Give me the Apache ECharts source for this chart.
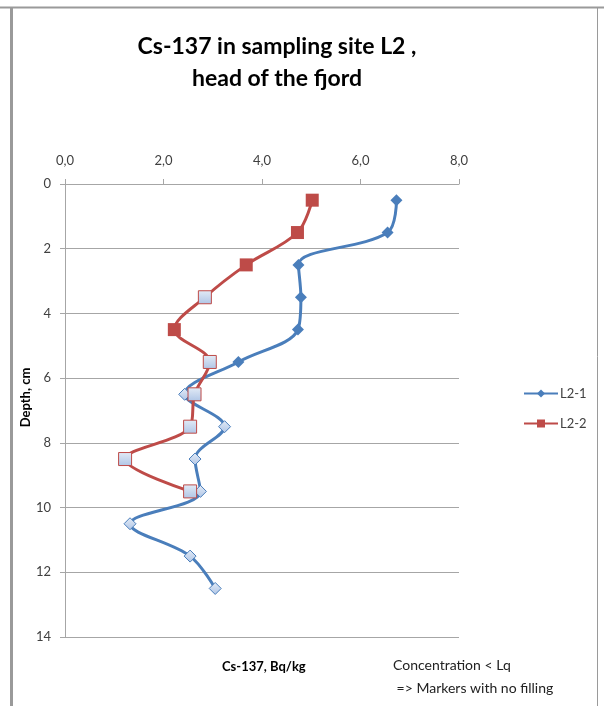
<!DOCTYPE html>
<html>
<head>
<meta charset="utf-8">
<script src="https://cdn.jsdelivr.net/npm/echarts@6/dist/echarts.min.js"></script>
<style>
  html, body { margin: 0; padding: 0; background: #fff; }
  #chart { width: 604px; height: 706px; }
</style>
</head>
<body>
<div id="chart"></div>
<script>
// depth of each slice (cm)
var depths = [0.5, 1.5, 2.5, 3.5, 4.5, 5.5, 6.5, 7.5, 8.5, 9.5, 10.5, 11.5, 12.5];
// Cs-137 activity, Bq/kg
var l21Values = [6.73, 6.55, 4.74, 4.79, 4.73, 3.52, 2.43, 3.24, 2.64, 2.75, 1.32, 2.54, 3.05];
var l22Values = [5.02, 4.72, 3.68, 2.84, 2.22, 2.94, 2.63, 2.54, 1.22, 2.54];
// true = concentration < Lq (marker with no filling)
var l21BelowLq = [false, false, false, false, false, false, true, true, true, true, true, true, true];
var l22BelowLq = [false, false, false, true, false, true, true, true, true, true];
var xTicks = [0, 2, 4, 6, 8];
var yTicks = [0, 2, 4, 6, 8, 10, 12, 14];

var blue = '#4a7ebb';
var red = '#be4b48';
var labelColor = '#404040';
var gridColor = '#a6a6a6';

var emptyFill = new echarts.graphic.LinearGradient(0, 0, 0, 1, [
    { offset: 0, color: '#e3ebf6' },
    { offset: 1, color: '#afc5e6' }
]);

function buildData(values, flags, color) {
    return values.map(function (v, i) {
        var item = { value: [v, depths[i]] };
        if (flags[i]) {
            item.itemStyle = { color: emptyFill, borderColor: color, borderWidth: 1 };
        }
        return item;
    });
}

var myChart = echarts.init(document.getElementById('chart'));
myChart.setOption({
    animation: false,
    title: {
        text: 'Cs-137 in sampling site L2 ,\nhead of the fjord',
        left: 272,
        top: 26,
        textAlign: 'center',
        textStyle: {
            fontFamily: 'Lato',
            fontSize: 23,
            fontWeight: 'bold',
            color: '#000',
            lineHeight: 32
        }
    },
    grid: {
        left: 65,
        right: 145,
        top: 184,
        bottom: 69,
        containLabel: false,
        outerBoundsMode: 'none'
    },
    legend: {
        orient: 'vertical',
        left: 518,
        top: 382,
        itemWidth: 34,
        itemHeight: 10,
        itemGap: 17,
        data: ['L2-1', 'L2-2'],
        textStyle: { color: labelColor, fontSize: 13, fontFamily: 'Lato', padding: [0, 0, 0, -3] }
    },
    xAxis: {
        type: 'value',
        position: 'top',
        min: xTicks[0],
        max: xTicks[xTicks.length - 1],
        interval: 2,
        axisLine: { show: true, lineStyle: { color: gridColor } },
        axisTick: { show: true, length: 5, lineStyle: { color: gridColor } },
        splitLine: { show: false },
        axisLabel: {
            margin: 17,
            fontSize: 13,
            fontFamily: 'Lato',
            color: labelColor,
            formatter: function (v) { return v.toFixed(1).replace('.', ','); }
        }
    },
    yAxis: {
        type: 'value',
        inverse: true,
        min: yTicks[0],
        max: yTicks[yTicks.length - 1],
        interval: 2,
        name: 'Depth, cm',
        nameLocation: 'middle',
        nameRotate: 90,
        nameGap: 33,
        nameMoveOverlap: false,
        nameTextStyle: { fontSize: 13, fontWeight: 'bold', color: '#000', fontFamily: 'Lato', padding: [0, 0, 0, 26] },
        axisLine: { show: true, lineStyle: { color: gridColor } },
        axisTick: { show: true, length: 5, lineStyle: { color: gridColor } },
        splitLine: { show: true, lineStyle: { color: gridColor, width: 1 } },
        axisLabel: {
            margin: 14,
            fontSize: 13,
            fontFamily: 'Lato',
            color: labelColor
        }
    },
    series: [{
        name: 'L2-1',
        type: 'line',
        smooth: 0.35,
        symbol: 'diamond',
        symbolSize: 12,
        lineStyle: { color: blue, width: 3 },
        itemStyle: { color: blue },
        data: buildData(l21Values, l21BelowLq, blue)
    }, {
        name: 'L2-2',
        type: 'line',
        smooth: 0.35,
        symbol: 'rect',
        symbolSize: 13,
        lineStyle: { color: red, width: 3 },
        itemStyle: { color: red },
        data: buildData(l22Values, l22BelowLq, red)
    }],
    graphic: [
        // chart frame
        { type: 'rect', shape: { x: 10, y: 7, width: 3, height: 700 }, style: { fill: '#9a9a9a' } },
        { type: 'line', shape: { x1: 0, y1: 7.5, x2: 604, y2: 7.5 }, style: { stroke: '#9a9a9a', lineWidth: 2 } },
        { type: 'line', shape: { x1: 597.5, y1: 7, x2: 597.5, y2: 706 }, style: { stroke: '#9a9a9a', lineWidth: 1 } },
        {
            type: 'text', left: 222, top: 660,
            style: { text: 'Cs-137, Bq/kg', fontSize: 13, fontWeight: 'bold', fontFamily: 'Lato', fill: '#000' }
        },
        {
            type: 'text', left: 393, top: 654,
            style: {
                text: 'Concentration < Lq\n => Markers with no filling',
                fontSize: 14, fontFamily: 'Lato', fill: '#222', lineHeight: 23
            }
        }
    ]
});
</script>
</body>
</html>
